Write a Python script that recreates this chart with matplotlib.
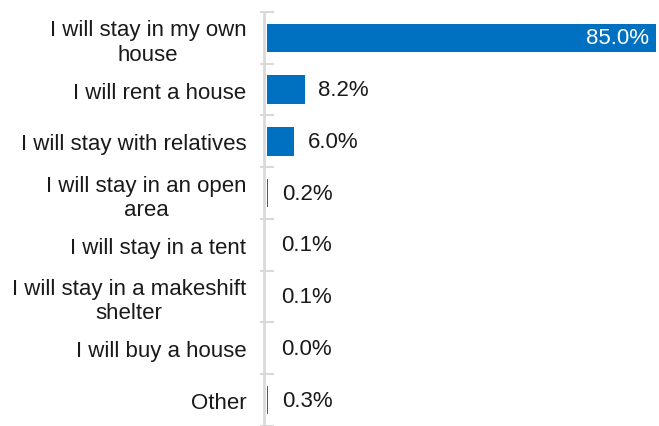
import matplotlib.pyplot as plt

plt.rcParams["font.family"] = ["Liberation Sans", "DejaVu Sans"]

categories = [
    "I will stay in my own\nhouse",
    "I will rent a house",
    "I will stay with relatives",
    "I will stay in an open\narea",
    "I will stay in a tent",
    "I will stay in a makeshift\nshelter",
    "I will buy a house",
    "Other",
]
shares = [85.0, 8.2, 6.0, 0.2, 0.1, 0.1, 0.0, 0.3]

BLUE = "#0070C0"
GRID = "#D9D9D9"
TEXT = "#1a1a1a"
FS = 16

fig = plt.figure(figsize=(6.59, 4.27), dpi=100)
ax = fig.add_axes([0.401, 0.0, 0.599, 0.9696])

# spine placement resets the ticks, so do it before styling labels
for s in ["top", "right", "bottom"]:
    ax.spines[s].set_visible(False)
ax.spines["left"].set_color(GRID)
ax.spines["left"].set_linewidth(2)
ax.spines["left"].set_position(("data", -0.6))

pos = list(range(len(categories)))
ax.barh(pos, shares, height=0.55, color=BLUE, linewidth=0)
ax.set_ylim(len(categories) - 0.5, -0.5)
ax.set_xlim(-0.6, 85.6)

ax.set_yticks(pos)
ax.set_yticklabels(categories, fontsize=FS, color=TEXT, multialignment="center")
ax.tick_params(axis="y", length=0, pad=13)
ax.set_xticks([])

# category separators along the value axis
for b in [p - 0.5 for p in pos] + [len(pos) - 0.5]:
    ax.plot([-1.4, 1.4], [b, b], color=GRID, lw=1.5, clip_on=False)

for p, v in zip(pos, shares):
    if v > 50:
        ax.annotate(f"{v:.1f}%", (v, p), xytext=(-5, 0), textcoords="offset points",
                    ha="right", va="center", fontsize=FS, color="white")
    else:
        ax.annotate(f"{v:.1f}%", (v, p), xytext=(10, 0), textcoords="offset points",
                    ha="left", va="center", fontsize=FS, color=TEXT)

fig.savefig("out.png", dpi=100)
